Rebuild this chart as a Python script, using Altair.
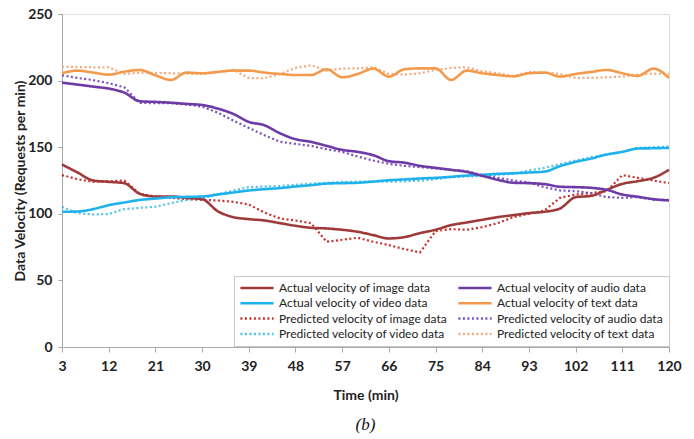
import altair as alt
import pandas as pd

minutes = list(range(3, 121, 3))

image_actual = [137, 131, 125, 124, 123, 115, 113, 113, 112, 111, 102, 97.5, 96, 95, 93, 91, 89.5, 89, 88, 86.5,
                84, 81.5, 82.5, 85.5, 88, 91.5, 93.5, 95.5, 97.5, 99, 100.5, 101.5, 104, 112.5, 113.5, 118, 122.5, 124.5, 127, 133]
image_pred = [129, 126, 124, 124.5, 125, 115, 113, 112, 111, 110.5, 110, 109, 107, 101, 96.5, 95, 93, 79, 80.5, 82,
              79, 76.5, 73.5, 71, 87, 88.5, 88, 90, 93, 97.5, 100, 102.5, 112, 114.5, 115.5, 117, 129, 127, 125, 123]
audio_actual = [198.5, 197, 195.5, 194, 191, 184.5, 184, 183.4, 182.5, 181.7, 179, 175, 169, 166.5, 160.5, 156, 154, 151, 148, 146.5,
                144, 139.5, 138.4, 136, 134.5, 133, 131.5, 128.5, 125.5, 123.3, 123, 122.3, 120.3, 120, 119.5, 118, 114.5, 112.8, 111, 110]
audio_pred = [204, 202, 200.4, 198, 195, 183.3, 183, 183, 182, 180.5, 176, 170, 164.5, 159, 154, 152.5, 151, 148.5, 146.5, 143,
              140, 137.5, 136, 135, 134, 133, 132, 129, 127, 125, 123.5, 120, 117.5, 117, 115.5, 112.5, 112, 112.5, 110.5, 110.5]
video_actual = [101.5, 101.7, 103.5, 106.5, 108.5, 110.4, 111.4, 112.4, 112.7, 113, 114.5, 116, 117.5, 118.5, 119.3, 120.5, 121.5, 122.7, 123, 123.3,
                124.2, 125.2, 125.8, 126.5, 127, 127.8, 128.7, 129.3, 130, 130.4, 131, 131.7, 135.8, 139, 141.5, 144.5, 146.5, 149, 149.2, 149.5]
video_pred = [105.3, 100.5, 99.5, 99.8, 103.5, 104.5, 105.3, 108, 110.4, 111.6, 114.5, 117.5, 120, 120.5, 120.9, 121.8, 122.6, 123.2, 124, 124.1,
              124.1, 124.1, 124.4, 124.8, 126, 127.5, 128, 128.4, 129.3, 130, 132.5, 134.5, 137.4, 140, 142.5, 144.5, 146.5, 149.5, 150, 150.5]
text_actual = [205.5, 207.5, 206, 204.5, 206.7, 208, 204, 200.5, 206, 205.5, 206.5, 207.5, 207.5, 206, 205, 204.2, 204.2, 208.5, 202.5, 205,
               209, 203, 208.5, 209.2, 209.2, 200.5, 207.5, 205.5, 204.2, 203.2, 205.5, 206, 203, 205, 206.5, 208, 205.5, 203.5, 209, 202]
text_pred = [210.4, 210.2, 210, 210, 205, 206, 205.8, 205.5, 205.2, 205, 206.5, 208, 202, 201.7, 205, 209.5, 211.5, 207.5, 209, 209.2,
             210, 205, 204.5, 205.5, 208, 209.5, 210, 207, 205.5, 203.5, 206.5, 206, 205, 202, 202, 202.5, 203, 204.5, 205.3, 205]

# legend order (column-major, two columns of four)
series_names = [
    "Actual velocity of image data", "Actual velocity of video data",
    "Predicted velocity of image data", "Predicted velocity of video data",
    "Actual velocity of audio data", "Actual velocity of text data",
    "Predicted velocity of audio data", "Predicted velocity of text data",
]
series_values = [image_actual, video_actual, image_pred, video_pred,
                 audio_actual, text_actual, audio_pred, text_pred]
series_colors = ["#9E3B3A", "#1FB1EC", "#C8302E", "#4CC3EA",
                 "#6E3AA6", "#F39A4C", "#7A4FC0", "#F3A97A"]
series_dash = [[1, 0], [1, 0], [2, 2.5], [2, 2.5], [1, 0], [1, 0], [2, 2.5], [2, 2.5]]
x_ticks = list(range(3, 121, 9))
y_ticks = [0, 50, 100, 150, 200, 250]

rows = []
for name, vals in zip(series_names, series_values):
    kind = "Actual" if name.startswith("Actual") else "Predicted"
    for m, v in zip(minutes, vals):
        rows.append({"minute": m, "value": v, "series": name, "kind": kind})
df = pd.DataFrame(rows)

FONT = "Lato"

x_enc = alt.X("minute:Q", scale=alt.Scale(domain=[3, 120], nice=False),
              axis=alt.Axis(values=x_ticks, title="Time (min)", grid=False,
                            labelFont=FONT, labelFontWeight="bold", labelFontSize=14,
                            labelColor="#222", titleFont=FONT, titleFontWeight="bold",
                            titleFontSize=14, titleColor="#222", titlePadding=15,
                            domainColor="#a8a8a8", tickColor="#a8a8a8", tickSize=5,
                            labelPadding=7, labelFlush=False))
y_enc = alt.Y("value:Q", scale=alt.Scale(domain=[0, 250], nice=False),
              axis=alt.Axis(values=y_ticks, title="Data Velocity (Requests per min)", grid=False,
                            labelFont=FONT, labelFontWeight="bold", labelFontSize=14,
                            labelColor="#222", titleFont=FONT, titleFontWeight="bold",
                            titleFontSize=14, titleColor="#222", titlePadding=0,
                            domainColor="#a8a8a8", tickColor="#a8a8a8", tickSize=4,
                            labelPadding=6))

leg = dict(title=None, orient="none", legendX=172, legendY=262,
           columns=2, symbolType="stroke", symbolSize=1100, clipHeight=14,
           symbolStrokeWidth=2.5, labelFont=FONT, labelFontSize=12,
           labelColor="#222", fillColor="white", strokeColor="#c8c8c8",
           padding=5, columnPadding=9, rowPadding=1.3, labelLimit=250)
color_enc = alt.Color("series:N", scale=alt.Scale(domain=series_names, range=series_colors),
                      legend=alt.Legend(**leg))
dash_enc = alt.StrokeDash("series:N", scale=alt.Scale(domain=series_names, range=series_dash),
                          legend=alt.Legend(**leg))

base = alt.Chart(df)
pred = base.transform_filter(alt.datum.kind == "Predicted").mark_line(strokeWidth=2.2, strokeCap="butt").encode(
    x=x_enc, y=y_enc, color=color_enc, strokeDash=dash_enc, detail="series:N")
act = base.transform_filter(alt.datum.kind == "Actual").mark_line(strokeWidth=2.6, interpolate="monotone").encode(
    x=x_enc, y=y_enc, color=color_enc, strokeDash=dash_enc, detail="series:N")

chart = alt.layer(pred, act).properties(
    width=607, height=333,
    title=alt.TitleParams("(b)", orient="bottom", font="Liberation Serif", fontStyle="italic",
                          fontWeight="normal", fontSize=17, color="#111", offset=15),
    autosize=alt.AutoSizeParams(type="none"),
    padding={"left": 62, "top": 14, "right": 25, "bottom": 92},
).configure_view(stroke="#b0b0b0", strokeWidth=1.5).configure(background="white")

chart.save("out.html", embed_options={"renderer": "svg", "actions": False})
